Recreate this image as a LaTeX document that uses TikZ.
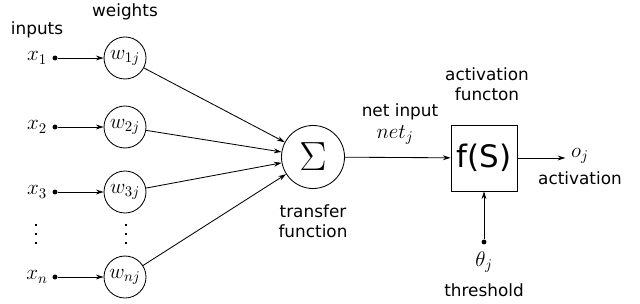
\documentclass[tikz,border=0pt]{standalone}
\usepackage{fix-cm}
\usepackage{fontspec}
\setmainfont{DejaVu Sans}
\usetikzlibrary{arrows.meta,positioning}
\tikzset{
  lbl/.style={font=\fontsize{12}{14}\selectfont, inner sep=0pt, align=center},
  var/.style={font=\fontsize{15}{16}\selectfont, inner sep=1pt},
  wgt/.style={circle, draw, line width=0.6pt, minimum size=1.05cm, inner sep=0pt, font=\fontsize{15}{16}\selectfont},
  sumn/.style={circle, draw, line width=0.6pt, minimum size=1.575cm, inner sep=0pt, font=\fontsize{29}{30}\selectfont},
  actn/.style={draw, line width=0.6pt, minimum size=1.65cm, inner sep=0pt, font=\fontsize{22}{24}\selectfont},
  pt/.style={circle, fill, inner sep=0pt, minimum size=3.5pt},
  dt/.style={rectangle, fill, inner sep=0pt, minimum size=1.9pt},
  arr/.style={-{Stealth[length=5.5pt,width=3.5pt]}, line width=0.6pt},
}
\begin{document}
\begin{tikzpicture}
  \useasboundingbox (0,0) rectangle (16,-7.6);
  \node[lbl] (inputs) at (0.925,-0.75) {inputs};
  \node[lbl] (weights) at (3.125,-0.3) {weights};
  \node[var] (x1) at (0.925,-1.45) {$x_1$};
  \node[var] (x2) at (0.925,-3.175) {$x_2$};
  \node[var] (x3) at (0.925,-4.8) {$x_3$};
  \node[dt] (xd1) at (0.9,-5.625) {};
  \node[dt] (xd2) at (0.9,-5.85) {};
  \node[dt] (xd3) at (0.9,-6.075) {};
  \node[var] (xn) at (0.925,-6.925) {$x_n$};
  \node[pt] (p1) at (1.375,-1.45) {};
  \node[pt] (p2) at (1.375,-3.175) {};
  \node[pt] (p3) at (1.375,-4.8) {};
  \node[pt] (pn) at (1.375,-6.925) {};
  \node[wgt] (w1) at (3.125,-1.45) {$w_{1j}$};
  \node[wgt] (w2) at (3.125,-3.175) {$w_{2j}$};
  \node[wgt] (w3) at (3.125,-4.8) {$w_{3j}$};
  \node[dt] (wd1) at (3.15,-5.625) {};
  \node[dt] (wd2) at (3.15,-5.85) {};
  \node[dt] (wd3) at (3.15,-6.075) {};
  \node[wgt] (wn) at (3.125,-6.925) {$w_{nj}$};
  \node[sumn] (sum) at (7.825,-3.925) {$\Sigma$};
  \node[lbl] (transfer) at (7.825,-5.525) {transfer\\function};
  \node[lbl] (netin) at (10.0,-2.8) {net input};
  \node[var, inner sep=0pt] (net) at (9.875,-3.37) {$net_j$};
  \node[actn] (act) at (12.1,-3.95) {f(S)};
  \node[lbl] (actlbl) at (12.175,-2.1) {activation\\functon};
  \node[var] (out) at (14.5,-3.9) {$o_j$};
  \node[lbl] (outlbl) at (14.5,-4.45) {activation};
  \node[pt] (pt) at (12.1,-6.05) {};
  \node[var] (theta) at (12.1,-6.55) {$\theta_j$};
  \node[lbl] (thr) at (12.1,-7.25) {threshold};
  \draw[arr] (p1) -- (w1);
  \draw[arr] (p2) -- (w2);
  \draw[arr] (p3) -- (w3);
  \draw[arr] (pn) -- (wn);
  \draw[arr] (w1) -- (sum);
  \draw[arr] (w2) -- (sum);
  \draw[arr] (w3) -- (sum);
  \draw[arr] (wn) -- (sum);
  \draw[arr] (sum) -- (act);
  \draw[arr, shorten >=3pt] (act.east) -- (act.east -| out.west);
  \draw[arr] (pt) -- (act);
\end{tikzpicture}
\end{document}
